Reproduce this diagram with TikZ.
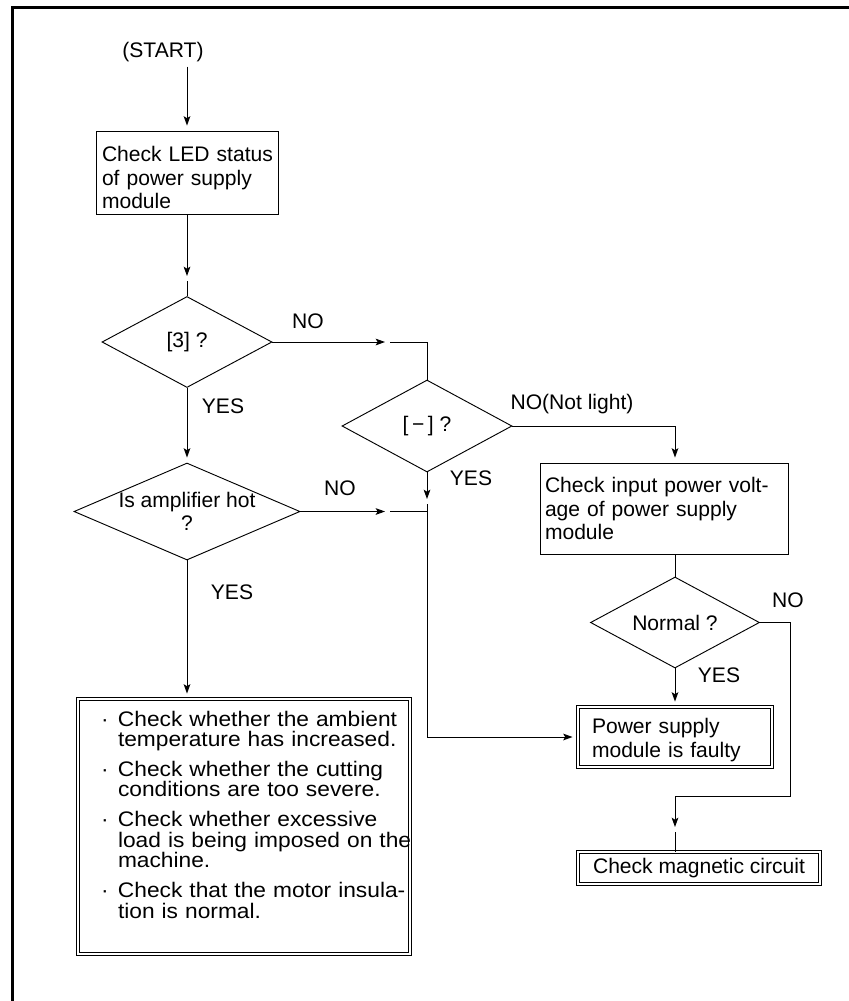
\documentclass[tikz,border=0pt]{standalone}
\usepackage{fontspec}
\setmainfont{Liberation Sans}
\newfontfamily\widefont{Liberation Sans}[FakeStretch=1.08]
\usetikzlibrary{shapes.geometric,arrows.meta}

\tikzset{
  procbox/.style={draw, rectangle, align=left, inner ysep=0pt},
  dblbox/.style={draw, rectangle, double, double distance=2.2pt, inner ysep=0pt},
  decision/.style={draw, diamond, inner sep=0pt, shape aspect=1.87},
  flow/.style={-{Stealth[length=7pt,width=5pt,inset=1.5pt]}, shorten >=3.75pt},
  yesno/.style={inner sep=0pt}
}
\newcommand{\chkline}[1]{\mbox{\llap{·\hspace{6.9pt}}#1}}

\begin{document}
\begin{tikzpicture}[x=0.75pt, y=-0.75pt, line width=0.7pt, font=\fontsize{15.8pt}{17.5pt}\selectfont]
    \useasboundingbox (0,0) rectangle (849,1001);
    % frame
    \draw[line width=2pt] (849,7.5) -- (12.5,7.5) -- (12.5,1001);

    \node (start) at (163,52) {(START)};
    \node[procbox, text width=127.5pt, inner xsep=4.5pt, minimum height=62.25pt, text height=19pt] (led) at (187,172.5) {\mbox{Check LED status}\\of power supply\\module};
    \node[decision, minimum width=127.5pt, minimum height=68.25pt] (q3) at (187,342) {[3] ?};
    \node[decision, minimum width=127.5pt, minimum height=69pt] (qdash) at (427,426) {[\,−\,] ?};
    \node[decision, minimum width=169.5pt, minimum height=72.75pt, shape aspect=2.33, inner sep=-3pt, align=center] (qhot) at (187,511.5) {Is amplifier hot\\?};
    \node[procbox, text width=178.5pt, inner xsep=3.75pt, minimum height=68.25pt] (volt) at (664,508.5) {Check input power volt-\\age of power supply\\module};
    \node[decision, minimum width=126.75pt, minimum height=68.25pt] (qnorm) at (675,622.5) {Normal ?};
    \node[dblbox, align=left, text width=124.5pt, inner xsep=10.5pt, minimum height=45pt, text height=16pt] (faulty) at (675,737) {Power supply\\module is faulty};
    \node[dblbox, minimum width=181.5pt, minimum height=24pt, inner xsep=2pt] (magnet) at (699,868) {Check magnetic circuit};
    \node[dblbox, align=left, text width=189pt, inner xsep=30pt, minimum height=191.25pt, text depth=162pt,
          font=\widefont\fontsize{15.8pt}{15.4pt}\selectfont] (chk) at (244,826.5) {%
      \chkline{Check whether the ambient}\\
      \mbox{temperature has increased.}\\[6.9pt]
      \chkline{Check whether the cutting}\\
      \mbox{conditions are too severe.}\\[6.9pt]
      \chkline{Check whether excessive}\\
      \mbox{load is being imposed on the}\\
      \mbox{machine.}\\[6.9pt]
      \chkline{Check that the motor insula-}\\
      \mbox{tion is normal.}};

    % answers
    \node[yesno] (no1) at (308,321) {NO};
    \node[yesno] (yes1) at (223,406) {YES};
    \node[yesno] (no2) at (572,404) {NO(Not light)};
    \node[yesno] (yes2) at (471,478) {YES};
    \node[yesno] (no3) at (340,488) {NO};
    \node[yesno] (yes3) at (232,592) {YES};
    \node[yesno] (no4) at (788,600) {NO};
    \node[yesno] (yes4) at (719,675) {YES};

    % bends and breaks
    \coordinate (a1) at (187,281);
    \coordinate (a2) at (390,342);
    \coordinate (a3) at (427,504);
    \coordinate (a4) at (390,511.5);
    \coordinate (b1) at (790,796);
    \coordinate (a5) at (675,832);

    \draw[flow] (start.south -| led.north) -- (led.north);
    \draw[flow] (led.south) -- (a1);
    \draw (a1) -- (q3.north);
    \draw[flow] (q3.east) -- (a2);
    \draw (a2) -| (qdash.north);
    \draw[flow] (q3.south) -- (qhot.north);
    \draw[flow] (qdash.east) -| (qnorm.north |- volt.north);
    \draw[flow] (qdash.south) -- (a3);
    \draw[flow] (a3) |- (faulty.west);
    \draw[flow] (qhot.east) -- (a4);
    \draw (a4) -- (a4 -| qdash.south);
    \draw[flow] (qhot.south) -- (qhot.south |- chk.north);
    \draw (volt.south -| qnorm.north) -- (qnorm.north);
    \draw[flow] (qnorm.south) -- (faulty.north);
    \draw[flow] (qnorm.east) -| (b1) -| (a5);
    \draw (a5) -- (a5 |- magnet.north);
\end{tikzpicture}
\end{document}
